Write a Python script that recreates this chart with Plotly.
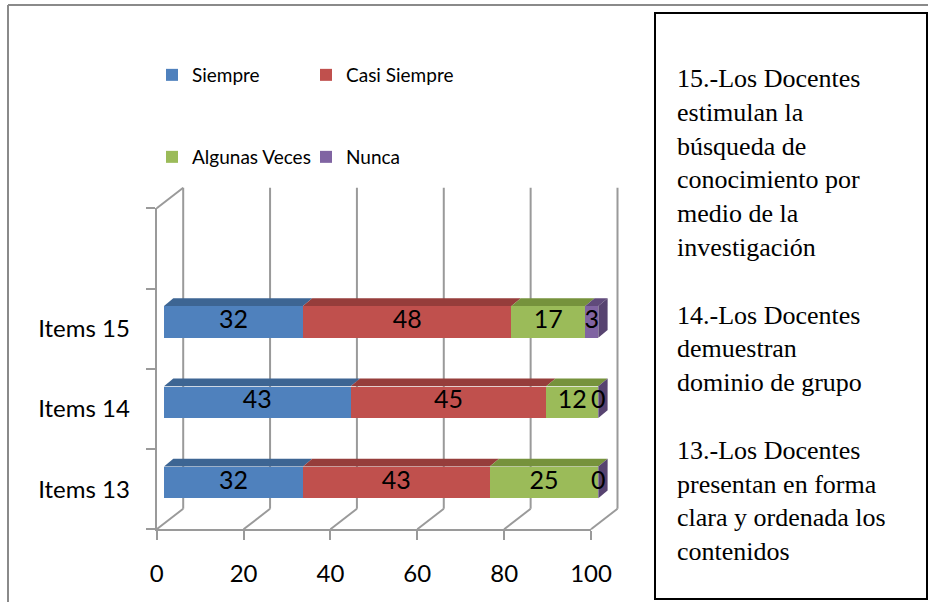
import plotly.graph_objects as go

# ---------------- data ----------------
categories = ["Items 13", "Items 14", "Items 15"]
series_names = ["Siempre", "Casi Siempre", "Algunas Veces", "Nunca"]
siempre = [32, 43, 32]
casi_siempre = [43, 45, 48]
algunas_veces = [25, 12, 17]
nunca = [0, 0, 3]
x_ticks = [0, 20, 40, 60, 80, 100]
box_lines = [
    "15.-Los Docentes", "estimulan la", "búsqueda de", "conocimiento por",
    "medio de la", "investigación", "",
    "14.-Los Docentes", "demuestran", "dominio de grupo", "",
    "13.-Los Docentes", "presentan en forma", "clara y ordenada los", "contenidos",
]

# ---------------- style ----------------
front_colors = ["#4F81BD", "#C0504D", "#9BBB59", "#8064A2"]
top_colors = ["#3D6593", "#963D3B", "#76923C", "#604A7B"]
side_colors = ["#324F75", "#7A302E", "#5E7530", "#574370"]
grid_color = "#9A9A9A"
SANS = "Lato, 'Open Sans', sans-serif"
SERIF = "'Liberation Serif', 'Times New Roman', serif"

W, H = 928, 602
def fx(p):
    return p / W
def fy(p):
    return 1 - p / H

# front axes geometry (pixels)
AX0, AX1 = 156.7, 591.0
FLOOR, WTOP = 529.3, 208.3
DX, DY = 26.5, 20.5          # depth of the 3D box
XS = (AX1 - AX0) / 100.0      # px per value unit
NSLOT = 4
YS = (FLOOR - WTOP) / NSLOT   # px per category slot
BOFF_X, BOFF_Y = 7.3, 6.8     # bars sit a bit inside the box
BDX, BDY = 9.3, 7.7           # bar depth
BAR_W = 0.394
XMAX_BAR = 104

series = [siempre, casi_siempre, algunas_veces, nunca]
idx = list(range(len(categories)))

fig = go.Figure()

# front faces of the bars
for k, (name, vals) in enumerate(zip(series_names, series)):
    fig.add_trace(go.Bar(
        x=vals, y=idx, orientation="h", name=name, width=BAR_W,
        marker=dict(color=front_colors[k], line=dict(width=0)),
        legend="legend" if k < 2 else "legend2",
        xaxis="x", yaxis="y", hoverinfo="skip",
    ))

# 3D top faces and right side face of the bars (filled polygons)
dxu = BDX / XS
dyu = BDY / YS
cum = [0] * len(categories)
for k, vals in enumerate(series):
    for i, v in enumerate(vals):
        a, b = cum[i], cum[i] + v
        yt = i + BAR_W / 2
        if v > 0 or k == len(series) - 1:
            fig.add_trace(go.Scatter(
                x=[a, b, b + dxu, a + dxu, a], y=[yt, yt, yt + dyu, yt + dyu, yt],
                mode="lines", fill="toself", fillcolor=top_colors[k],
                line=dict(width=0, color=top_colors[k]), showlegend=False,
                xaxis="x", yaxis="y", hoverinfo="skip"))
        cum[i] = b
for i in idx:
    t = cum[i]
    yb, yt = i - BAR_W / 2, i + BAR_W / 2
    fig.add_trace(go.Scatter(
        x=[t, t, t + dxu, t + dxu, t], y=[yb, yt, yt + dyu, yb + dyu, yb],
        mode="lines", fill="toself", fillcolor=side_colors[-1],
        line=dict(width=0, color=side_colors[-1]), showlegend=False,
        xaxis="x", yaxis="y", hoverinfo="skip"))

# data labels
cum = [0] * len(categories)
for k, vals in enumerate(series):
    mids = []
    for i, v in enumerate(vals):
        mids.append(cum[i] + v / 2.0)
        cum[i] += v
    fig.add_trace(go.Scatter(
        x=mids, y=idx, mode="text", text=[str(v) for v in vals],
        textposition="middle center", showlegend=False,
        textfont=dict(family=SANS, size=25, color="black"),
        xaxis="x", yaxis="y", hoverinfo="skip", cliponaxis=False,
    ))

# invisible trace so the front (labelled) axes get drawn
fig.add_trace(go.Scatter(x=[0, 100], y=[-0.5, -0.5], mode="none", showlegend=False,
                         xaxis="x2", yaxis="y2", hoverinfo="skip"))

shapes = []
# 3D walls: back wall gridlines, floor diagonals, left wall top
gl = dict(color=grid_color, width=2)
for v in x_ticks:
    xf = AX0 + v * XS
    shapes.append(dict(type="line", xref="paper", yref="paper",
                       x0=fx(xf + DX), x1=fx(xf + DX), y0=fy(FLOOR - DY), y1=fy(WTOP - DY),
                       line=gl, layer="below"))
    shapes.append(dict(type="line", xref="paper", yref="paper",
                       x0=fx(xf), x1=fx(xf + DX), y0=fy(FLOOR), y1=fy(FLOOR - DY),
                       line=gl, layer="below"))
shapes.append(dict(type="line", xref="paper", yref="paper",
                   x0=fx(AX0), x1=fx(AX0 + DX), y0=fy(WTOP), y1=fy(WTOP - DY),
                   line=gl, layer="below"))

# outer chart frame (top and left edges)
frame = dict(color="#8A8A8A", width=2)
shapes.append(dict(type="line", xref="paper", yref="paper",
                   x0=fx(8), x1=fx(8), y0=fy(5), y1=0, line=frame))
shapes.append(dict(type="line", xref="paper", yref="paper",
                   x0=fx(8), x1=1, y0=fy(5), y1=fy(5), line=frame))

# text box on the right
shapes.append(dict(type="rect", xref="paper", yref="paper",
                   x0=fx(655), x1=fx(927), y0=fy(599), y1=fy(13),
                   line=dict(color="black", width=2), fillcolor="rgba(0,0,0,0)"))

annotations = [dict(
    xref="paper", yref="paper", x=fx(675), y=fy(62), xanchor="left", yanchor="top",
    align="left", showarrow=False, text="<br>".join(box_lines),
    font=dict(family=SERIF, size=26, color="black"),
)]

bar_x0 = AX0 + BOFF_X
bar_ybot = FLOOR - BOFF_Y
leg_common = dict(orientation="h", x=fx(152), xanchor="left", yanchor="middle",
                  entrywidth=109, entrywidthmode="pixels", itemwidth=30,
                  bgcolor="rgba(0,0,0,0)", font=dict(family=SANS, size=19, color="black"),
                  traceorder="normal")
fig.update_layout(
    width=W, height=H, margin=dict(l=0, r=0, t=0, b=0, autoexpand=False),
    autosize=False,
    paper_bgcolor="white", plot_bgcolor="rgba(0,0,0,0)",
    barmode="stack", bargap=0,
    showlegend=True,
    xaxis=dict(domain=[fx(bar_x0), fx(bar_x0 + XMAX_BAR * XS)], range=[0, XMAX_BAR],
               visible=False, anchor="y", fixedrange=True),
    yaxis=dict(domain=[fy(bar_ybot), fy(bar_ybot - 3 * YS)], range=[-0.5, 2.5],
               visible=False, anchor="x", fixedrange=True),
    xaxis2=dict(domain=[fx(AX0), fx(AX1)], range=[0, 100], anchor="y2",
                tickvals=x_ticks, ticktext=[str(v) for v in x_ticks],
                ticks="outside", ticklen=9, tickwidth=2, tickcolor=grid_color,
                showline=True, linecolor=grid_color, linewidth=2,
                showgrid=False, zeroline=False, ticklabelstandoff=13,
                tickfont=dict(family=SANS, size=24, color="black"), fixedrange=True),
    yaxis2=dict(domain=[fy(FLOOR), fy(WTOP)], range=[-0.5, NSLOT - 0.5], anchor="x2",
                tickvals=idx, ticktext=categories, ticks="",
                minor=dict(tickvals=[s - 0.5 for s in range(NSLOT + 1)], ticks="outside",
                           ticklen=9, tickwidth=2, tickcolor=grid_color, showgrid=False),
                showline=True, linecolor=grid_color, linewidth=2,
                showgrid=False, zeroline=False, ticklabelstandoff=20,
                tickfont=dict(family=SANS, size=24, color="black"), fixedrange=True),
    legend=dict(y=fy(75), **leg_common),
    legend2=dict(y=fy(157), **leg_common),
    shapes=shapes, annotations=annotations,
)

fig.write_html(
    "out.html",
    config={"displayModeBar": False, "responsive": False},
    post_script=("document.documentElement.style.margin='0';"
                 "document.documentElement.style.overflow='hidden';"
                 "document.body.style.margin='0';"
                 "document.body.style.overflow='hidden';"),
)
